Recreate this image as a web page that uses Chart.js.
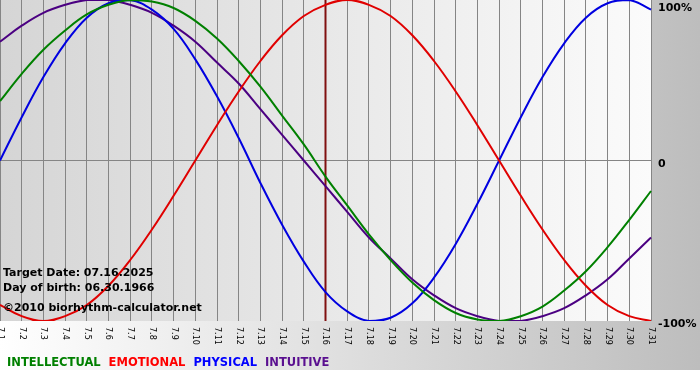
<!DOCTYPE html>
<html>
<head>
<meta charset="utf-8">
<title>Biorhythm</title>
<script src="https://cdn.jsdelivr.net/npm/chart.js@4.4.1/dist/chart.umd.min.js"></script>
<style>
  html, body { margin: 0; padding: 0; background: #fff; }
  #wrap { width: 700px; height: 380px; }
</style>
</head>
<body>
<div id="wrap"><canvas id="bio" width="700" height="380"></canvas></div>
<script>
// ============ Data ============
const days = ['7.1', '7.2', '7.3', '7.4', '7.5', '7.6', '7.7', '7.8', '7.9', '7.10',
  '7.11', '7.12', '7.13', '7.14', '7.15', '7.16', '7.17', '7.18', '7.19', '7.20',
  '7.21', '7.22', '7.23', '7.24', '7.25', '7.26', '7.27', '7.28', '7.29', '7.30', '7.31'];

const intellectual = [37, 54, 69, 81, 91, 97, 100, 99, 95, 87, 76, 62, 46, 28, 10, -10,
  -28, -46, -62, -76, -87, -95, -99, -100, -97, -91, -81, -69, -54, -37, -19];
const emotional = [-90, -97, -100, -97, -90, -78, -62, -43, -22, 0, 22, 43, 62, 78, 90, 97,
  100, 97, 90, 78, 62, 43, 22, 0, -22, -43, -62, -78, -90, -97, -100];
const physical = [0, 27, 52, 73, 89, 98, 100, 94, 82, 63, 40, 14, -14, -40, -63, -82,
  -94, -100, -98, -89, -73, -52, -27, 0, 27, 52, 73, 89, 98, 100, 94];
const intuitive = [74, 84, 92, 97, 100, 100, 97, 92, 84, 74, 61, 48, 32, 16, 0, -16,
  -32, -48, -61, -74, -84, -92, -97, -100, -100, -97, -92, -84, -74, -61, -48];

const seriesNames = ['INTELLECTUAL', 'EMOTIONAL', 'PHYSICAL', 'INTUITIVE'];
const yTicks = [-100, 0, 100];
const yTickLabels = ['-100%', '0', '100%'];
const targetDay = '7.16';
const infoLines = ['Target Date: 07.16.2025', 'Day of birth: 06.30.1966', '©2010 biorhythm-calculator.net'];

const BOLD = 'bold 11px "DejaVu Sans", Verdana, sans-serif';

// ============ Drawing helpers ============
const bioPlugin = {
    id: 'bio',
    beforeDraw(chart) {
        const { ctx, chartArea: a, width } = chart;
        ctx.save();
        ctx.fillStyle = '#ffffff';
        ctx.fillRect(0, 0, width, chart.height);

        const outer = ctx.createLinearGradient(0, 0, width, 0);
        outer.addColorStop(0, '#ffffff');
        outer.addColorStop(1, '#bdbdbd');
        ctx.fillStyle = outer;
        ctx.fillRect(0, 0, width, 370);

        const inner = ctx.createLinearGradient(a.left, 0, a.right, 0);
        inner.addColorStop(0, '#d5d5d5');
        inner.addColorStop(1, '#fbfbfb');
        ctx.fillStyle = inner;
        ctx.fillRect(a.left, a.top, a.right - a.left, a.bottom - a.top);
        ctx.restore();
    },
    beforeDatasetsDraw(chart) {
        const { ctx, chartArea: a } = chart;
        const x = chart.scales.x.getPixelForValue(days.indexOf(targetDay));
        ctx.save();
        ctx.strokeStyle = '#801010';
        ctx.lineWidth = 2;
        ctx.beginPath();
        ctx.moveTo(x, a.top);
        ctx.lineTo(x, a.bottom);
        ctx.stroke();
        ctx.restore();
    },
    afterDraw(chart) {
        const { ctx, chartArea: a } = chart;
        const xs = chart.scales.x;
        const ys = chart.scales.y;
        ctx.save();

        // day labels, rotated clockwise
        ctx.fillStyle = '#000';
        ctx.font = '8px "DejaVu Sans", Verdana, sans-serif';
        ctx.textAlign = 'left';
        ctx.textBaseline = 'middle';
        days.forEach((d, i) => {
            ctx.save();
            ctx.translate(xs.getPixelForValue(i), a.bottom + 6);
            ctx.rotate(Math.PI / 2);
            ctx.fillText(d, 0, 0);
            ctx.restore();
        });

        // percent labels on the right
        ctx.font = BOLD;
        ctx.textBaseline = 'alphabetic';
        yTicks.forEach((v, i) => {
            const y = Math.max(ys.getPixelForValue(v) + 6, a.top + 11);
            ctx.fillText(yTickLabels[i], a.right + 7, y);
        });

        // info text
        const infoY = [276, 291, 311];
        infoLines.forEach((t, i) => ctx.fillText(t, 3, infoY[i]));

        // legend
        ctx.font = 'bold 11.5px "DejaVu Sans", Verdana, sans-serif';
        let lx = 7;
        chart.data.datasets.forEach((ds, i) => {
            ctx.fillStyle = ds.legendColor;
            ctx.fillText(seriesNames[i], lx, 366);
            lx += ctx.measureText(seriesNames[i]).width + 8;
        });
        ctx.restore();
    }
};

const line = (data, color, legendColor) => ({
    data, borderColor: color, legendColor, borderWidth: 2,
    pointRadius: 0, tension: 0.4, fill: false
});

new Chart(document.getElementById('bio'), {
    type: 'line',
    data: {
        labels: days,
        datasets: [
            line(intellectual, '#008000', '#008000'),
            line(emotional, '#e00000', '#ff0000'),
            line(physical, '#0000e0', '#0000ff'),
            line(intuitive, '#4b0082', '#5a1090')
        ]
    },
    options: {
        responsive: false,
        animation: false,
        layout: { padding: { top: 0, left: 0, right: 49, bottom: 59 } },
        plugins: { legend: { display: false }, tooltip: { enabled: false } },
        scales: {
            x: {
                offset: false,
                ticks: { display: false },
                grid: { color: '#858585', lineWidth: 1, drawTicks: false },
                border: { display: false }
            },
            y: {
                position: 'right',
                min: -100,
                max: 100,
                afterBuildTicks: s => { s.ticks = yTicks.map(v => ({ value: v })); },
                ticks: { display: false },
                grid: {
                    color: c => (c.tick && c.tick.value === 0 ? '#858585' : 'rgba(0,0,0,0)'),
                    drawTicks: false
                },
                border: { display: false }
            }
        }
    },
    plugins: [bioPlugin]
});
</script>
</body>
</html>
